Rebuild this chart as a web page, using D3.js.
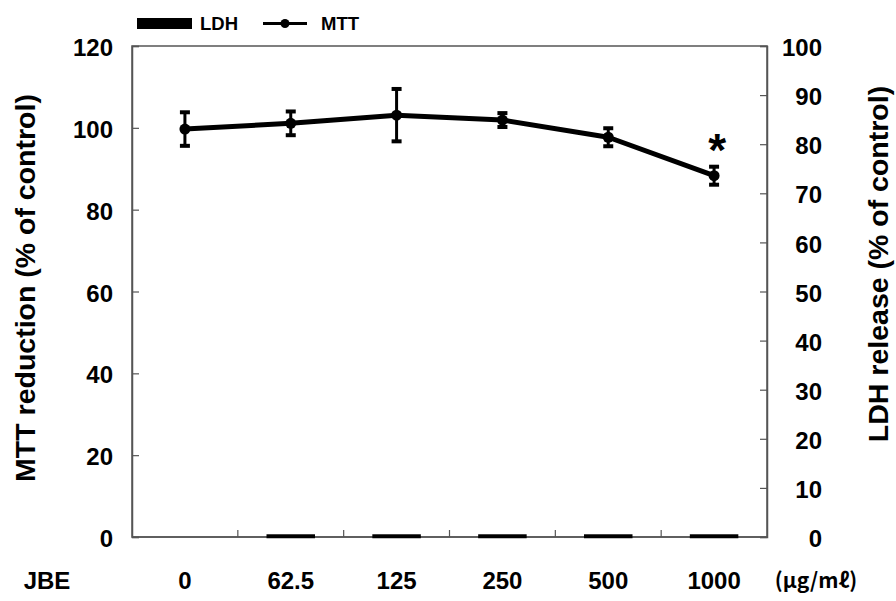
<!DOCTYPE html>
<html>
<head>
<meta charset="utf-8">
<script src="https://cdn.jsdelivr.net/npm/d3@7"></script>
<style>
  html, body { margin: 0; padding: 0; background: #fff; }
  svg { display: block; }
  text { font-family: "Liberation Sans", Arial, sans-serif; font-weight: bold; fill: #000; }
</style>
</head>
<body>
<svg id="chart" width="896" height="601"></svg>
<script>
// Concentrations of JBE (µg/mℓ)
const doses = ["0", "62.5", "125", "250", "500", "1000"];
// MTT reduction, % of control (left axis)
const mttMean = [99.7, 101.1, 103.1, 101.9, 97.7, 88.3];
const mttErr  = [4.1, 2.9, 6.4, 1.7, 2.2, 2.2];
// LDH release, % of control (right axis)
const ldhValues = [0, 0.3, 0.3, 0.3, 0.3, 0.3];
// Significance markers
const significant = [false, false, false, false, false, true];
// Tick values
const leftTicks = [0, 20, 40, 60, 80, 100, 120];
const rightTicks = [0, 10, 20, 30, 40, 50, 60, 70, 80, 90, 100];

const svg = d3.select("#chart");
const m = { left: 132, right: 767, top: 46, bottom: 537 };

const x = d3.scaleBand().domain(doses).range([m.left, m.right]).padding(0);
const yL = d3.scaleLinear().domain([0, 120]).range([m.bottom, m.top]);
const yR = d3.scaleLinear().domain([0, 100]).range([m.bottom, m.top]);
const axisColor = "#555";

// Frame
svg.append("rect")
  .attr("x", m.left).attr("y", m.top)
  .attr("width", m.right - m.left).attr("height", m.bottom - m.top)
  .attr("fill", "none").attr("stroke", axisColor).attr("stroke-width", 1.5);

// Left axis (ticks point inward)
const gL = svg.append("g").attr("transform", `translate(${m.left},0)`)
  .call(d3.axisRight(yL).tickValues(leftTicks).tickSize(7).tickFormat(d3.format("d")));
gL.select(".domain").attr("stroke", axisColor).attr("stroke-width", 1.5);
gL.selectAll(".tick line").attr("stroke", axisColor).attr("stroke-width", 1.2);
gL.selectAll(".tick text")
  .attr("x", -19).attr("dy", "0.4em").attr("text-anchor", "end")
  .style("font-size", "24px");

// Right axis (ticks point inward)
const gR = svg.append("g").attr("transform", `translate(${m.right},0)`)
  .call(d3.axisLeft(yR).tickValues(rightTicks).tickSize(7).tickFormat(d3.format("d")));
gR.select(".domain").attr("stroke", axisColor).attr("stroke-width", 1.5);
gR.selectAll(".tick line").attr("stroke", axisColor).attr("stroke-width", 1.2);
gR.selectAll(".tick text")
  .attr("x", 55).attr("dy", "0.4em").attr("text-anchor", "end")
  .style("font-size", "24px");

// Bottom axis: ticks between categories, pointing up
const boundaries = doses.slice(1).map(d => x(d));
const gB = svg.append("g").attr("transform", `translate(0,${m.bottom})`);
gB.append("line").attr("x1", m.left).attr("x2", m.right)
  .attr("stroke", axisColor).attr("stroke-width", 1.5);
gB.selectAll("line.tk").data(boundaries).join("line").attr("class", "tk")
  .attr("x1", d => d).attr("x2", d => d).attr("y1", 0).attr("y2", -7)
  .attr("stroke", axisColor).attr("stroke-width", 1.2);
gB.selectAll("text.cat").data(doses).join("text").attr("class", "cat")
  .attr("x", d => x(d) + x.bandwidth() / 2).attr("y", 52)
  .attr("text-anchor", "middle").style("font-size", "24px").text(d => d);
gB.append("text").attr("x", 47).attr("y", 52).attr("text-anchor", "middle")
  .style("font-size", "24px").text("JBE");
gB.append("text").attr("x", 816).attr("y", 51).attr("text-anchor", "middle")
  .style("font-family", "'Noto Sans CJK KR', sans-serif")
  .style("font-size", "21px").text("(μg/mℓ)");

// LDH bars
const barW = 46;
svg.append("g").selectAll("rect").data(doses.map((d, i) => ({ d, v: ldhValues[i] })).filter(e => e.v > 0))
  .join("rect")
  .attr("x", e => x(e.d) + x.bandwidth() / 2 - barW / 2)
  .attr("y", e => yR(e.v))
  .attr("width", barW)
  .attr("height", e => yR(0) - yR(e.v))
  .attr("fill", "#000").attr("stroke", "#000").attr("stroke-width", 2.5);

// MTT line
const cx = d => x(d) + x.bandwidth() / 2;
svg.append("path")
  .datum(doses.map((d, i) => [cx(d), yL(mttMean[i])]))
  .attr("d", d3.line())
  .attr("fill", "none").attr("stroke", "#000").attr("stroke-width", 5)
  .attr("stroke-linejoin", "round");

// Error bars
const eb = svg.append("g").selectAll("g").data(doses).join("g");
eb.append("line")
  .attr("x1", d => cx(d)).attr("x2", d => cx(d))
  .attr("y1", (d, i) => yL(mttMean[i] + mttErr[i]))
  .attr("y2", (d, i) => yL(mttMean[i] - mttErr[i]))
  .attr("stroke", "#000").attr("stroke-width", 3);
[1, -1].forEach(s => {
  eb.append("line")
    .attr("x1", d => cx(d) - 5).attr("x2", d => cx(d) + 5)
    .attr("y1", (d, i) => yL(mttMean[i] + s * mttErr[i]))
    .attr("y2", (d, i) => yL(mttMean[i] + s * mttErr[i]))
    .attr("stroke", "#000").attr("stroke-width", 4);
});

// Markers
svg.append("g").selectAll("circle").data(doses).join("circle")
  .attr("cx", d => cx(d)).attr("cy", (d, i) => yL(mttMean[i]))
  .attr("r", 5.5).attr("fill", "#000");

// Significance asterisks
svg.append("g").selectAll("text").data(doses.filter((d, i) => significant[i])).join("text")
  .attr("x", d => cx(d) + 3)
  .attr("y", d => yL(mttMean[doses.indexOf(d)]) - 10)
  .attr("text-anchor", "middle").style("font-size", "46px").text("*");

// Axis titles
svg.append("text")
  .attr("transform", `translate(35,288) rotate(-90)`)
  .attr("text-anchor", "middle").style("font-size", "28.5px")
  .text("MTT reduction (% of control)");
svg.append("text")
  .attr("transform", `translate(888,264) rotate(-90)`)
  .attr("text-anchor", "middle").style("font-size", "28.5px")
  .text("LDH release (% of control)");

// Legend
const lg = svg.append("g");
lg.append("rect").attr("x", 137).attr("y", 18).attr("width", 55).attr("height", 11).attr("fill", "#000");
lg.append("text").attr("x", 200).attr("y", 30).style("font-size", "18.5px").text("LDH");
lg.append("line").attr("x1", 263).attr("x2", 307).attr("y1", 23.5).attr("y2", 23.5)
  .attr("stroke", "#000").attr("stroke-width", 3);
lg.append("circle").attr("cx", 285).attr("cy", 23.5).attr("r", 4.5).attr("fill", "#000");
lg.append("text").attr("x", 321).attr("y", 30).style("font-size", "18.5px").text("MTT");
</script>
</body>
</html>
